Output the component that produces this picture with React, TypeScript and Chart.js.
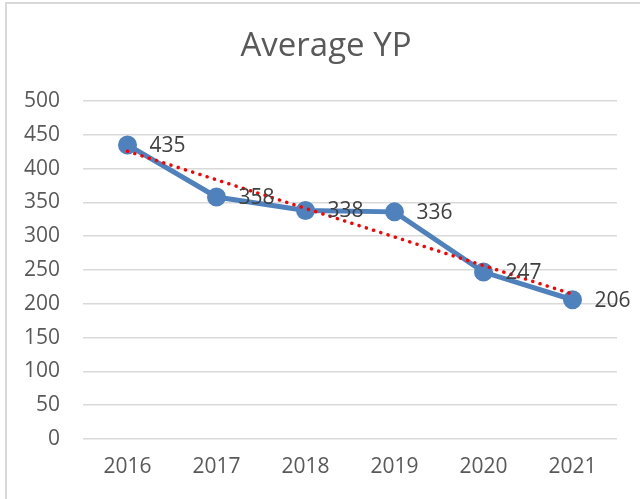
import React, { useEffect, useRef } from "react";
import { Chart, registerables } from "chart.js";

Chart.register(...registerables);

const categories = ["2016", "2017", "2018", "2019", "2020", "2021"];
const averageYP = [435, 358, 338, 336, 247, 206];
const titleText = "Average YP";

// Linear trendline (least squares), as Excel computes it from the series
function linearTrend(values: number[]): number[] {
  const n = values.length;
  const xs = values.map((_, i) => i);
  const mx = xs.reduce((a, b) => a + b, 0) / n;
  const my = values.reduce((a, b) => a + b, 0) / n;
  let sxy = 0, sxx = 0;
  xs.forEach((x, i) => { sxy += (x - mx) * (values[i] - my); sxx += (x - mx) * (x - mx); });
  const slope = sxy / sxx;
  return xs.map((x) => my + slope * (x - mx));
}

const FONT = "'Open Sans', Carlito, Calibri, sans-serif";

const labelPlugin = {
  id: "pointLabels",
  afterDatasetsDraw(chart: any) {
    const meta = chart.getDatasetMeta(1);
    const ctx = chart.ctx;
    ctx.save();
    ctx.font = `21px ${FONT}`;
    ctx.fillStyle = "#404040";
    ctx.textAlign = "left";
    ctx.textBaseline = "middle";
    meta.data.forEach((pt: any, i: number) => {
      ctx.fillText(String(averageYP[i]), pt.x + 22, pt.y + 1);
    });
    ctx.restore();
  },
};

// Title centred on the whole chart box (Excel style)
const titlePlugin = {
  id: "excelTitle",
  afterDraw(chart: any) {
    const ctx = chart.ctx;
    ctx.save();
    ctx.font = `33px ${FONT}`;
    ctx.fillStyle = "#595959";
    ctx.textAlign = "center";
    ctx.textBaseline = "middle";
    ctx.fillText(titleText, chart.width / 2 + 6, 47);
    ctx.restore();
  },
};

export default function App() {
  const ref = useRef<HTMLCanvasElement>(null);
  useEffect(() => {
    document.body.style.margin = "0";
    const chart = new Chart(ref.current!, {
      type: "line",
      data: {
        labels: categories,
        datasets: [
          {
            label: "Linear (Average YP)",
            data: linearTrend(averageYP),
            borderColor: "#ff0000",
            borderWidth: 3.5,
            borderDash: [0.1, 7.5],
            borderCapStyle: "round",
            pointRadius: 0,
            fill: false,
            order: 0,
          },
          {
            label: "Average YP",
            data: averageYP,
            borderColor: "#4f81bd",
            backgroundColor: "#4f81bd",
            borderWidth: 5,
            pointRadius: 7,
            pointBackgroundColor: "#4f81bd",
            pointBorderColor: "#4f81bd",
            fill: false,
            tension: 0,
            order: 1,
          },
        ],
      },
      options: {
        animation: false,
        responsive: false,
        maintainAspectRatio: false,
        layout: { padding: { left: 8, right: 23, top: 101, bottom: 0 } },
        plugins: {
          legend: { display: false },
          tooltip: { enabled: false },
          title: { display: false },
        },
        scales: {
          x: {
            offset: true,
            grid: { display: false, drawTicks: false },
            border: { display: false },
            ticks: { color: "#595959", font: { family: FONT, size: 21 }, padding: 15 },
            afterFit: (s: any) => { s.height = 60; },
          },
          y: {
            min: 0,
            max: 500,
            ticks: { stepSize: 50, color: "#595959", font: { family: FONT, size: 21 }, padding: 23 },
            grid: { color: "#d9d9d9", lineWidth: 1.5, drawTicks: false },
            border: { display: false },
            afterFit: (s: any) => { s.width = 75; },
          },
        },
      },
      plugins: [labelPlugin, titlePlugin],
    });
    return () => chart.destroy();
  }, []);
  return (
    <div style={{ position: "relative", width: 640, height: 499, overflow: "hidden", background: "#fff" }}>
      <div
        style={{
          position: "absolute",
          left: 5,
          top: 2,
          width: 700,
          height: 600,
          border: "2px solid #d9d9d9",
          boxSizing: "border-box",
        }}
      />
      <canvas ref={ref} width={640} height={499} style={{ position: "absolute", left: 0, top: 0 }} />
    </div>
  );
}
